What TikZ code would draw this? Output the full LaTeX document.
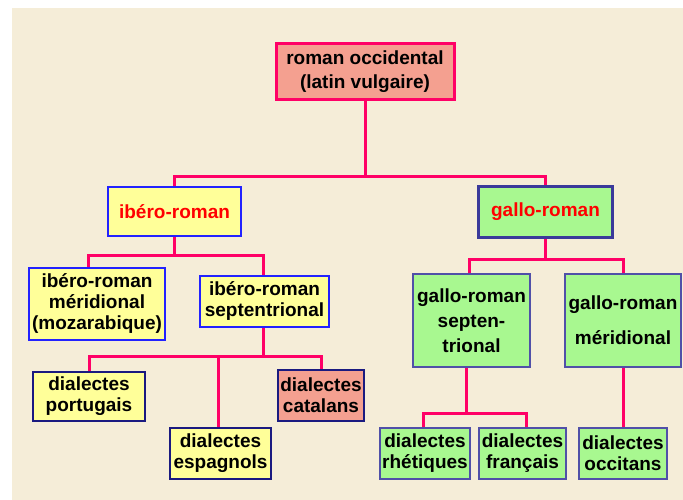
\documentclass[tikz,border=0pt]{standalone}
\usepackage{fontspec}
\setmainfont{Liberation Sans}
\definecolor{linec}{HTML}{FF0066}
\definecolor{salmon}{HTML}{F4A090}
\definecolor{yel}{HTML}{FFFF99}
\definecolor{grn}{HTML}{A8F890}
\definecolor{bluebd}{HTML}{2222FF}
\definecolor{navybd}{HTML}{1A1A80}
\definecolor{grnbd}{HTML}{5050A8}
\definecolor{gallobd}{HTML}{3A3A9A}
\definecolor{beige}{HTML}{F5EDD8}
\definecolor{redtx}{HTML}{FF0000}
\begin{document}
\begin{tikzpicture}[x=1pt,y=-1pt,
  box/.style={draw, line width=2pt, inner sep=0pt, align=center,
    font=\fontsize{19}{21}\selectfont\bfseries},
  ybox/.style={box, fill=yel, draw=navybd},
  gbox/.style={box, fill=grn, draw=grnbd},
  conn/.style={draw=linec, line width=3pt}]
\useasboundingbox (0,0) rectangle (683,500);
\fill[white] (0,0) rectangle (683,500);
\fill[beige] (12,8) rectangle (683,500);

\node[box, fill=salmon, draw=linec, line width=3pt, minimum width=178pt, minimum height=56pt,
  font=\fontsize{19}{24}\selectfont\bfseries] (root) at (365,71.5) {roman occidental\\(latin vulgaire)};
\node[box, fill=yel, draw=bluebd, text=redtx, minimum width=133pt, minimum height=49pt] (ibero) at (174.5,211.5) {ibéro-roman};
\node[box, fill=grn, draw=gallobd, line width=3pt, text=redtx, minimum width=134pt, minimum height=51pt] (gallo) at (545.5,212) {gallo-roman};

\node[box, fill=yel, draw=bluebd, minimum width=136pt, minimum height=72pt] (imer) at (97,304) {ibéro-roman\\méridional\\(mozarabique)};
\node[box, fill=yel, draw=bluebd, minimum width=129pt, minimum height=51pt] (isep) at (264.5,301.5) {ibéro-roman\\septentrional};

\node[ybox, minimum width=112pt, minimum height=49pt] (port) at (89,396.5) {dialectes\\portugais};
\node[ybox, minimum width=101pt, minimum height=51pt] (esp) at (220.5,453.5) {dialectes\\espagnols};
\node[box, fill=salmon, draw=navybd, minimum width=86pt, minimum height=51pt] (cat) at (321,395.5) {dialectes\\catalans};

\node[gbox, minimum width=117pt, minimum height=93pt, font=\fontsize{19}{25}\selectfont\bfseries] (gsep) at (471.5,320.5) {gallo-roman\\septen-\\trional};
\node[gbox, minimum width=116pt, minimum height=93pt, font=\fontsize{19}{35}\selectfont\bfseries] (gmer) at (623,320.5) {gallo-roman\\méridional};

\node[gbox, minimum width=90pt, minimum height=51pt] (rhe) at (425,453.5) {dialectes\\rhétiques};
\node[gbox, minimum width=87pt, minimum height=51pt] (fra) at (522.5,453.5) {dialectes\\français};
\node[gbox, minimum width=88pt, minimum height=51pt] (occ) at (623,453.5) {dialectes\\occitans};

% connectors
\coordinate (j0) at (365,177);
\draw[conn] (root.south) -- (j0);
\draw[conn] (ibero.north) |- (j0) -| (gallo.north);

\coordinate (j1) at (174.5,255);
\coordinate (imerN) at ([xshift=-9pt]imer.north);
\draw[conn] (ibero.south) -- (j1);
\draw[conn] (imerN) |- (j1) -| ([xshift=-1.5pt]isep.north);

\coordinate (j2) at (263,356);
\coordinate (espN) at ([xshift=-2pt]esp.north);
\draw[conn] ([xshift=-1.5pt]isep.south) -- (j2);
\draw[conn] (port.north) |- (j2) -| (cat.north);
\draw[conn] (espN) -- (espN |- j2);

\coordinate (j3) at (545.5,259);
\coordinate (gsepN) at ([xshift=-2.5pt]gsep.north);
\draw[conn] (gallo.south) -- (j3);
\draw[conn] (gsepN) |- (j3) -| (gmer.north);

\coordinate (gsepS) at ([xshift=-5pt]gsep.south);
\coordinate (j4) at (466.5,413);
\draw[conn] (gsepS) -- (j4);
\draw[conn] ([xshift=-2pt]rhe.north) |- (j4) -| ([xshift=3.5pt]fra.north);

\draw[conn] (gmer.south) -- (occ.north);
\end{tikzpicture}
\end{document}
